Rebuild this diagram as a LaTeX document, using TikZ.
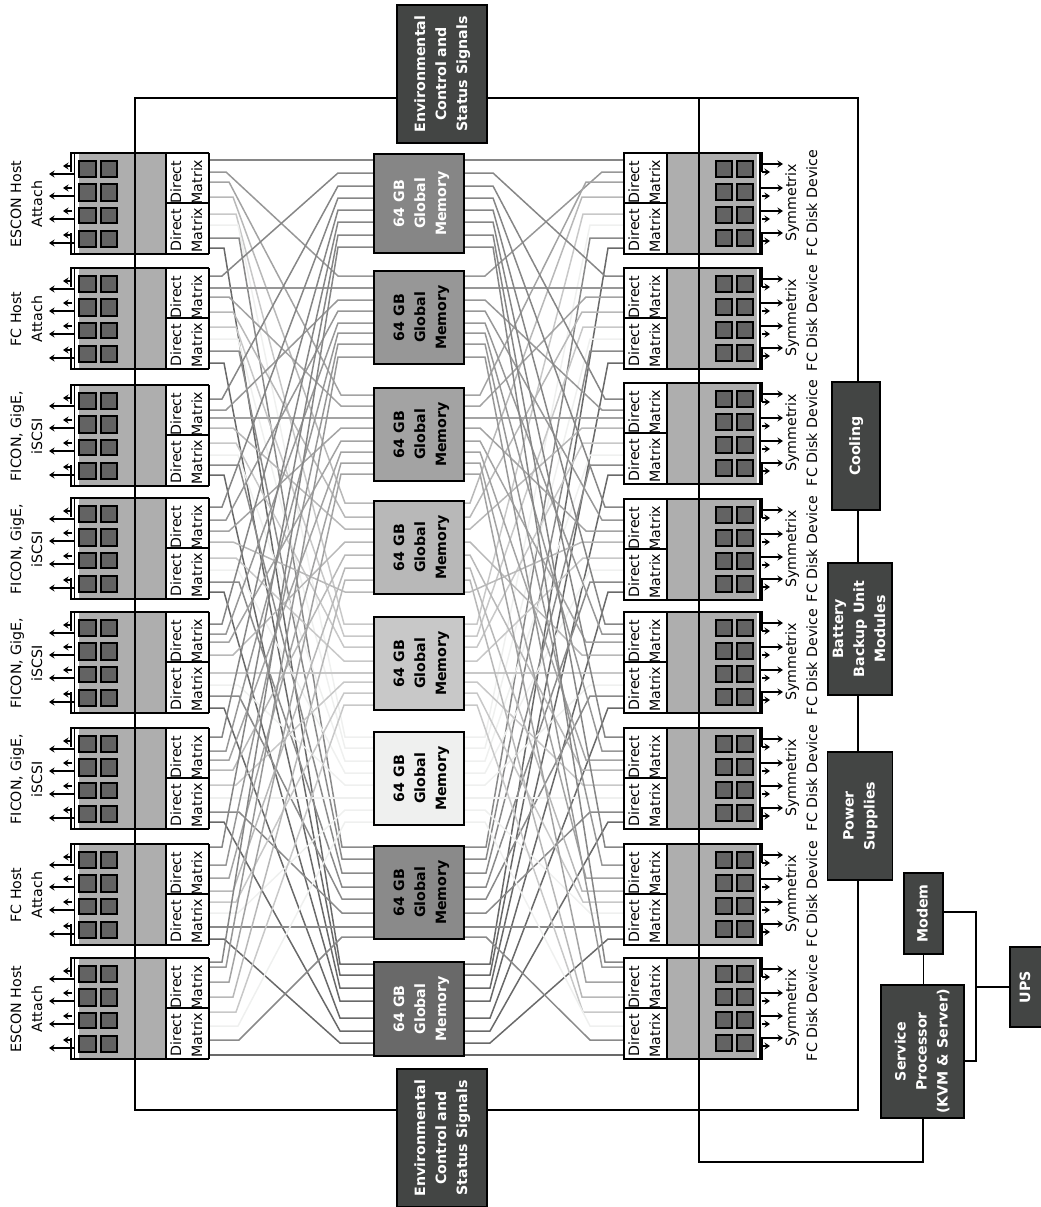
\documentclass[tikz,border=0pt]{standalone}
\usepackage{graphicx}
\usepackage{fontspec}
\usetikzlibrary{arrows.meta}
\setmainfont{DejaVu Sans}
\newcommand{\vtext}[1]{\rotatebox{90}{\begin{tabular}{@{}c@{}}#1\end{tabular}}}
\definecolor{mem1}{HTML}{868686}
\definecolor{mem2}{HTML}{979797}
\definecolor{mem3}{HTML}{A3A3A3}
\definecolor{mem4}{HTML}{B8B8B8}
\definecolor{mem5}{HTML}{C8C8C8}
\definecolor{mem6}{HTML}{EFF0EF}
\definecolor{mem7}{HTML}{8A8A8A}
\definecolor{mem8}{HTML}{696969}
\definecolor{cardgray}{HTML}{AEAEAE}
\definecolor{chipgray}{HTML}{636363}
\definecolor{darkbox}{HTML}{434544}
\tikzset{
  label/.style={font=\fontsize{14.2}{21}\selectfont, inner sep=0pt},
  membox/.style={draw=black, line width=1.4pt, inner sep=0pt, font=\fontsize{14.2}{21}\selectfont\bfseries, minimum width=90pt},
  ctrlbox/.style={draw=black, line width=1.4pt, fill=darkbox, text=white, inner sep=0pt, font=\fontsize{14.2}{21}\selectfont\bfseries},
  bus/.style={black, line width=1.5pt},
  wire/.style={line width=1.5pt},
  chip/.style={draw=black, line width=1.3pt, fill=chipgray},
  sigarrow/.style={-{Stealth[length=5.5pt,width=7pt]}, black, line width=1.3pt},
}
\begin{document}
\begin{tikzpicture}[x=1pt, y=-1pt]
    \useasboundingbox (0,0) rectangle (1041,1207);

    % Port heights on the cards
    \foreach \ports [count=\c] in {
        {160,172,182,197,214,225,238,248},
        {276,288,297,312,327,339,351,363},
        {399,410,418,428,443,455,465,475},
        {507,520,531,542,558,570,582,592},
        {624,634,642,655,673,685,696,708},
        {737,751,760,770,785,798,812,822},
        {847,865,878,891,902,913,927,939},
        {962,967,982,997,1012,1026,1040,1055}} {
        \foreach \y [count=\p] in \ports {
            \coordinate (cp-\c-\p) at (0,\y);
        }
    }
    % Port heights on the memories
    \foreach \ports [count=\m] in {
        {160,173,186,198,210,222,235,247},
        {276,288,300,311,323,333,344,357},
        {395,406,418,428,441,452,463,474},
        {503,517,529,592,542,555,568,580},
        {624,636,647,661,673,682,693,705},
        {737,748,761,773,785,798,810,822},
        {847,859,873,887,899,913,927,937},
        {964,975,988,1001,1018,1031,1043,1055}} {
        \foreach \y [count=\p] in \ports {
            \coordinate (mp-\m-\p) at (0,\y);
        }
    }

    % Crossbar wires
    \def\elbowcl{{222,226,229,233,236,238,239,224}}
    \def\elbowml{{338,338,341,345,344,345,342,340}}
    \def\elbowmr{{493,485,480,470,477,485,486,490}}
    \def\elbowcr{{605,602,586,582,583,590,590,608}}
    \foreach \c in {1,...,8} {
        \foreach \m in {1,...,8} {
            \pgfmathsetmacro\xa{\elbowcl[\m-1]}
            \pgfmathsetmacro\xb{\elbowml[\m-1]}
            \pgfmathsetmacro\xc{\elbowmr[\m-1]}
            \pgfmathsetmacro\xd{\elbowcr[\m-1]}
            \draw[wire, draw=mem\m] (208,0 |- cp-\c-\m) -- (\xa,0 |- cp-\c-\m)
                -- (\xb,0 |- mp-\m-\c) -- (375,0 |- mp-\m-\c);
            \draw[wire, draw=mem\m] (463,0 |- mp-\m-\c) -- (\xc,0 |- mp-\m-\c)
                -- (\xd,0 |- cp-\c-\m) -- (624,0 |- cp-\c-\m);
        }
    }

    % Global memories
    \foreach \top/\high/\tcol [count=\m] in {154/99/white, 271/93/black, 388/93/black, 501/93/black,
        617/93/black, 732/93/black, 846/93/black, 962/94/white} {
        \node[membox, fill=mem\m, text=\tcol, minimum height=\high pt] (mem\m) at (419,\top+\high/2)
            {\hspace*{4pt}\vtext{64 GB\\Global\\Memory}};
    }

    % Cards on both sides
    \foreach \top/\ltop/\name [count=\c] in {153/153/ESCON Host, 268/268/FC Host, 383/385/{FICON, GigE,},
        499/498/{FICON, GigE,}, 612/612/{FICON, GigE,}, 728/728/{FICON, GigE,}, 844/844/FC Host, 958/958/ESCON Host} {
        \begin{scope}[shift={(0,\ltop)}]
            \fill[white] (71,0) rectangle (209,101);
            \fill[cardgray] (79,0) rectangle (166,101);
            \draw[line width=1.2pt] (74.5,0) -- (74.5,101);
            \draw[line width=1.5pt] (71,19) -- (71,0) -- (209,0);
            \draw[line width=1.5pt] (71,80) -- (71,101) -- (209,101);
            \draw[line width=2pt] (208.5,0) -- (208.5,101);
            \draw[line width=1.3pt] (166,0) -- (166,101);
            \draw[line width=1.3pt] (166,50) -- (209,50);
            \foreach \ya/\yb in {8/24, 31/48, 55/70, 78/94} {
                \draw[chip] (79,\ya) rectangle (96,\yb);
                \draw[chip] (101,\ya) rectangle (117,\yb);
            }
            \foreach \ya/\yb in {13/21, 35/43, 58/66, 82/90} {
                \draw[sigarrow] (72,\ya) -- (63,\ya);
                \draw[sigarrow] (75,\yb) -- (49,\yb);
            }
            \node[label] (hda\c) at (187.5,29) {\vtext{Direct\\Matrix}};
            \node[label] (hdb\c) at (187.5,77) {\vtext{Direct\\Matrix}};
        \end{scope}
        \begin{scope}[shift={(0,\top)}]
            \fill[white] (623,0) rectangle (762,101);
            \fill[cardgray] (667,0) rectangle (757,101);
            \draw[line width=1.2pt] (760,0) -- (760,101);
            \draw[line width=1.5pt] (762,19) -- (762,0) -- (623,0);
            \draw[line width=1.5pt] (762,80) -- (762,101) -- (623,101);
            \draw[line width=2pt] (623.5,0) -- (623.5,101);
            \draw[line width=1.3pt] (667,0) -- (667,101);
            \draw[line width=1.3pt] (623,50) -- (667,50);
            \foreach \ya/\yb in {8/24, 31/47, 54/70, 77/93} {
                \draw[chip] (716,\ya) rectangle (732,\yb);
                \draw[chip] (737,\ya) rectangle (753,\yb);
            }
            \foreach \ya/\yb in {11/19, 35/43, 58/66, 80/88} {
                \draw[sigarrow] (760,\ya) -- (783,\ya);
                \draw[sigarrow] (762,\yb) -- (770,\yb);
            }
            \node[label] (dda\c) at (645.5,29) {\vtext{Direct\\Matrix}};
            \node[label] (ddb\c) at (645.5,77) {\vtext{Direct\\Matrix}};
            \node[label] (disk\c) at (802.5,50) {\vtext{Symmetrix\\FC Disk Device}};
        \end{scope}
        \ifnum\c=1 \node[label] (host\c) at (27.5,\ltop+51) {\vtext{\name\\Attach}};
        \else\ifnum\c=2 \node[label] (host\c) at (27.5,\ltop+51) {\vtext{\name\\Attach}};
        \else\ifnum\c=7 \node[label] (host\c) at (27.5,\ltop+51) {\vtext{\name\\Attach}};
        \else\ifnum\c=8 \node[label] (host\c) at (27.5,\ltop+51) {\vtext{\name\\Attach}};
        \else \node[label] (host\c) at (27.5,\ltop+51) {\vtext{\name\\iSCSI}};
        \fi\fi\fi\fi
    }

    % Control boxes
    \node[ctrlbox, minimum width=90pt, minimum height=138pt] (envtop) at (442,74) {\vtext{Environmental\\Control and\\Status Signals}};
    \node[ctrlbox, minimum width=90pt, minimum height=138pt] (envbot) at (442,1138) {\vtext{Environmental\\Control and\\Status Signals}};
    \node[ctrlbox, minimum width=48pt, minimum height=128pt] (cooling) at (856,446) {\vtext{Cooling}};
    \node[ctrlbox, minimum width=64pt, minimum height=132pt] (battery) at (860,629) {\vtext{Battery\\Backup Unit\\Modules}};
    \node[ctrlbox, minimum width=65pt, minimum height=128pt] (power) at (860,816) {\vtext{Power\\Supplies}};
    \node[ctrlbox, minimum width=39pt, minimum height=81pt] (modem) at (923.5,913.5) {\vtext{Modem}};
    \node[ctrlbox, minimum width=83pt, minimum height=133pt] (service) at (922.5,1051.5) {\vtext{Service\\Processor\\(KVM \& Server)}};
    \node[ctrlbox, minimum width=32pt, minimum height=80pt] (ups) at (1026,987) {\vtext{UPS}};

    % Black signal lines
    \coordinate (busnw) at (135,98);
    \coordinate (bussw) at (135,1110);
    \coordinate (busne) at (858,98);
    \coordinate (busse) at (858,1110);
    \coordinate (lannw) at (699,98);
    \coordinate (lansw) at (699,1162);
    \coordinate (lanse) at (923,1162);
    \coordinate (mainsa) at (976,912);
    \coordinate (mainsb) at (976,1061);
    \draw[bus] (envtop.west |- busnw) -- (busnw) -- (bussw) -- (envbot.west |- bussw);
    \draw[bus] (envtop.east |- busne) -- (busne) -- (busne |- cooling.north);
    \draw[bus] (envbot.east |- busse) -- (busse) -- (busse |- power.south);
    \draw[bus] (busne |- cooling.south) -- (busne |- battery.north);
    \draw[bus] (busne |- battery.south) -- (busne |- power.north);
    \draw[bus] (lannw) -- (lansw) -- (lanse) -- (lanse |- service.south);
    \draw[bus] (modem.south) -- (modem.south |- service.north);
    \draw[bus] (modem.east |- mainsa) -- (mainsa) -- (mainsb) -- (service.east |- mainsb);
    \draw[bus] (ups.west) -- (mainsa |- ups.west);
\end{tikzpicture}
\end{document}
